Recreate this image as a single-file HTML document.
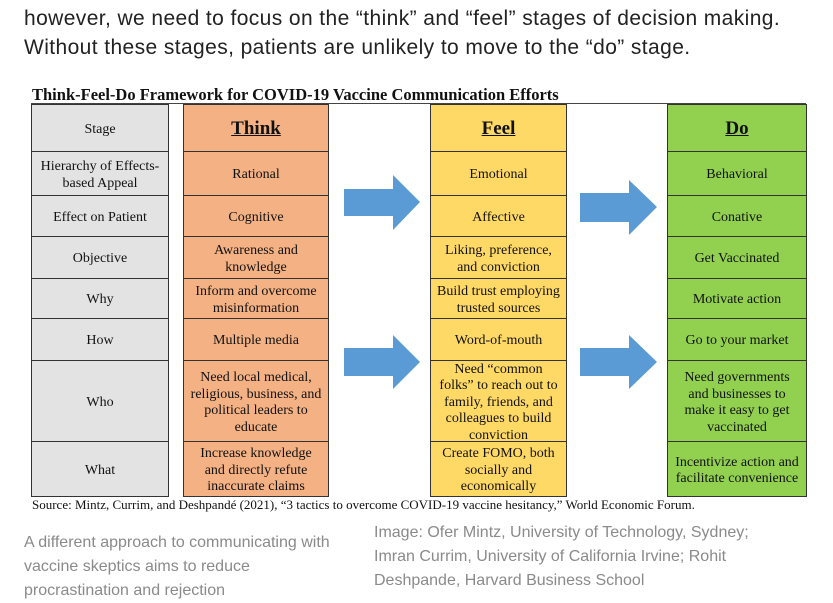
<!DOCTYPE html>
<html><head><meta charset="utf-8"><style>
body{margin:0;width:833px;height:589px;background:#fff;position:relative;overflow:hidden;font-family:"Liberation Serif",serif}
.p{position:absolute;left:24px;font-family:"Liberation Sans",sans-serif;font-size:21px;letter-spacing:0.4px;color:#222;white-space:nowrap}
.t{position:absolute;left:32px;top:85px;font-weight:bold;font-size:16.5px;color:#111;white-space:nowrap}
.c{position:absolute;box-sizing:border-box;border:1px solid #333;padding-top:4px;display:flex;align-items:center;justify-content:center;text-align:center;font-size:14px;line-height:16.5px;color:#111}
.h{font-size:19px;font-weight:bold;text-decoration:underline}
.cap{position:absolute;font-family:"Liberation Sans",sans-serif;font-size:16px;line-height:24px;color:#8a8a8a}
</style></head><body>
<div class="p" style="top:7px">however, we need to focus on the “think” and “feel” stages of decision making.</div>
<div class="p" style="top:36px">Without these stages, patients are unlikely to move to the “do” stage.</div>
<div class="t">Think-Feel-Do Framework for COVID-19 Vaccine Communication Efforts</div>
<div style="position:absolute;left:31px;top:103px;width:775px;height:1px;background:#444"></div>
<div id="g"></div>
<svg style="position:absolute;left:0;top:0" width="833" height="589">
<g fill="#5b9bd5">
<polygon points="344,189 393,189 393,175 420,202 393,230 393,216 344,216"/>
<polygon points="344,348 393,348 393,335 420,362 393,389 393,376 344,376"/>
<polygon points="580,193 629,193 629,180 657,207 629,235 629,222 580,222"/>
<polygon points="580,348 629,348 629,335 657,362 629,389 629,376 580,376"/>
</g></svg>
<div style="position:absolute;left:32px;top:497px;font-size:13px;color:#111;white-space:nowrap">Source: Mintz, Currim, and Deshpandé (2021), “3 tactics to overcome COVID-19 vaccine hesitancy,” World Economic Forum.</div>
<div class="cap" style="left:24px;top:531px">A different approach to communicating with<br>vaccine skeptics aims to reduce<br>procrastination and rejection</div>
<div class="cap" style="left:374px;top:521px">Image: Ofer Mintz, University of Technology, Sydney;<br>Imran Currim, University of California Irvine; Rohit<br>Deshpande, Harvard Business School</div>
<script>
var rows=[104,151,195,236,278,318,360,441,496];
var cols=[[31,168,'#e3e3e3'],[183,328,'#f4b183'],[430,566,'#ffd966'],[667,806,'#92d050']];
var data=[
['Stage','Hierarchy of Effects-<br>based Appeal','Effect on Patient','Objective','Why','How','Who','What'],
['<span class="h">Think</span>','Rational','Cognitive','Awareness and<br>knowledge','Inform and overcome<br>misinformation','Multiple media','Need local medical,<br>religious, business, and<br>political leaders to<br>educate','Increase knowledge<br>and directly refute<br>inaccurate claims'],
['<span class="h">Feel</span>','Emotional','Affective','Liking, preference,<br>and conviction','Build trust employing<br>trusted sources','Word-of-mouth','Need “common<br>folks” to reach out to<br>family, friends, and<br>colleagues to build<br>conviction','Create FOMO, both<br>socially and<br>economically'],
['<span class="h">Do</span>','Behavioral','Conative','Get Vaccinated','Motivate action','Go to your market','Need governments<br>and businesses to<br>make it easy to get<br>vaccinated','Incentivize action and<br>facilitate convenience']];
var h='';
for(var i=0;i<4;i++)for(var r=0;r<8;r++){
h+='<div class="c" style="left:'+cols[i][0]+'px;top:'+rows[r]+'px;width:'+(cols[i][1]-cols[i][0]+1)+'px;height:'+(rows[r+1]-rows[r]+1)+'px;background:'+cols[i][2]+'"><div>'+data[i][r]+'</div></div>';}
document.getElementById('g').innerHTML=h;
</script>
</body></html>
